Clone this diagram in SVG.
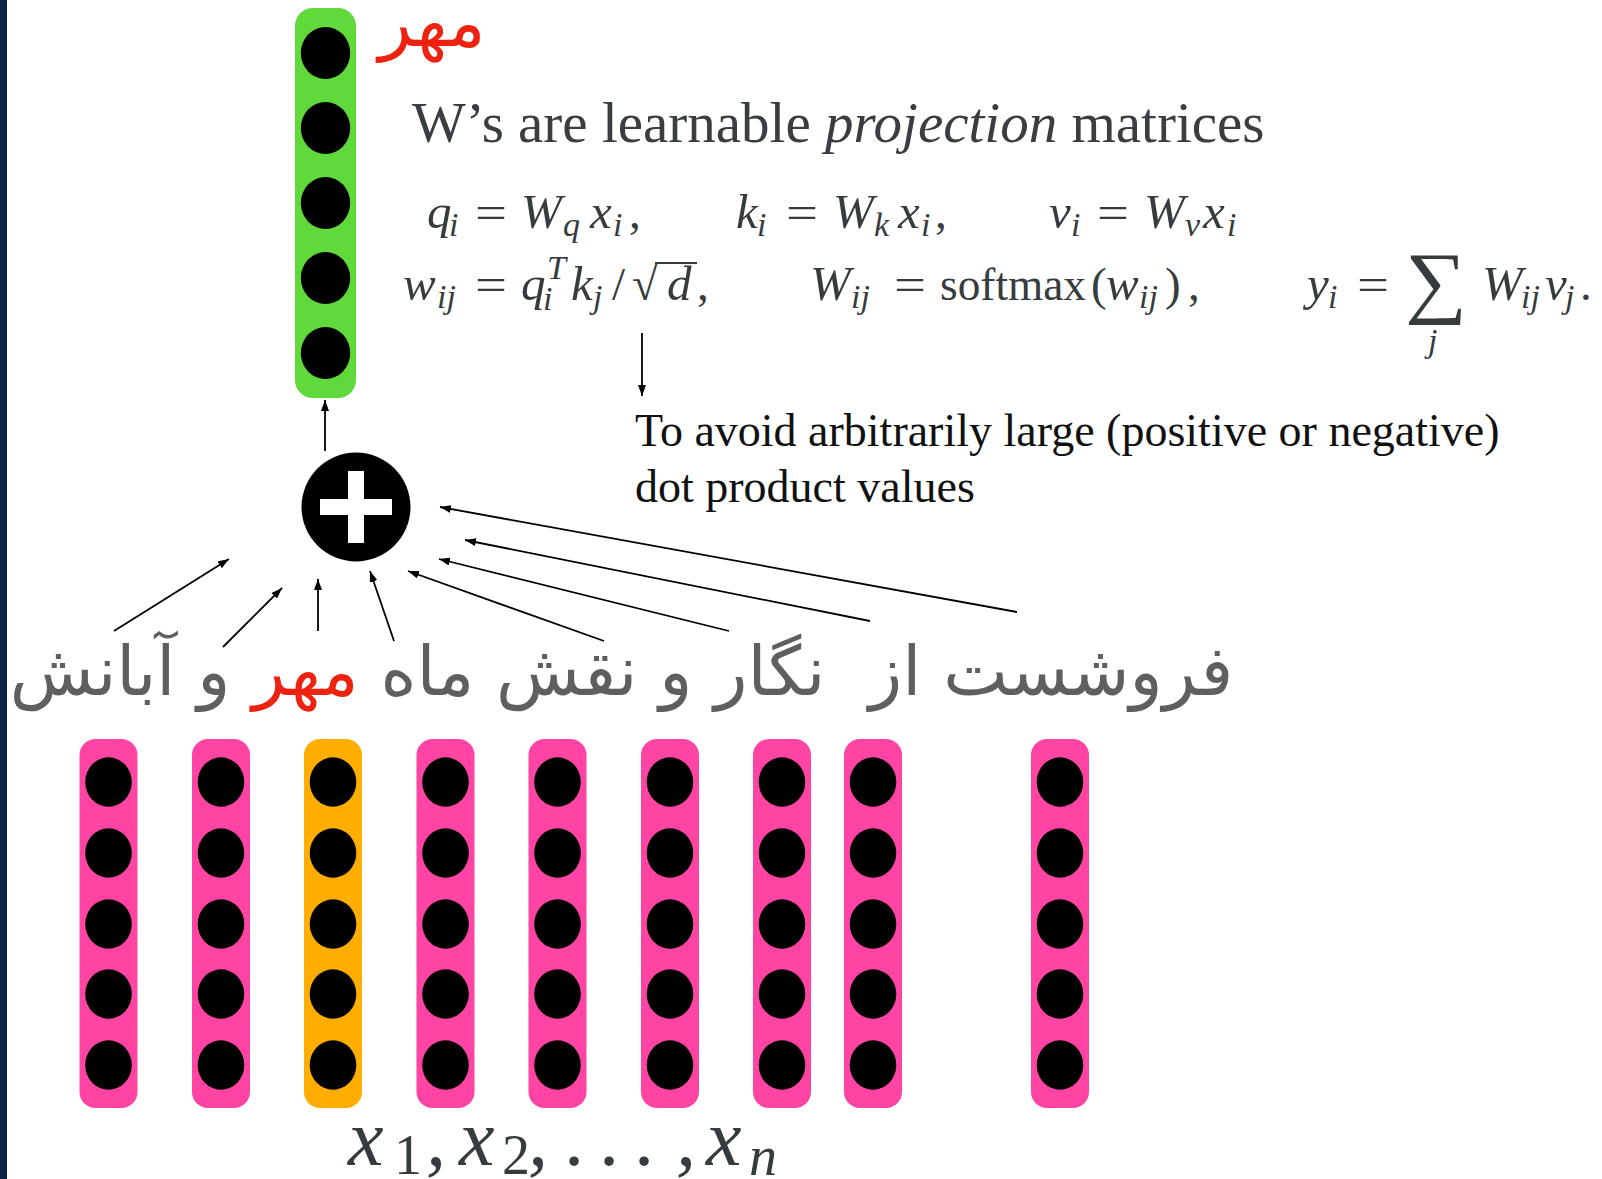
<svg xmlns="http://www.w3.org/2000/svg" width="1602" height="1179" viewBox="0 0 1602 1179">
<style>
.vec-p{fill:#ff44a4}
.vec-o{fill:#ffae00}
.vec-g{fill:#60da3a}
.dot{fill:#000}
.conn{stroke:#000;stroke-width:1.8;fill:none}
.mi{font-family:"Liberation Serif",serif;font-style:italic;font-size:49px;fill:#363c3e}
.mr{font-family:"Liberation Serif",serif;font-size:47px;fill:#363c3e}
.sb{font-family:"Liberation Serif",serif;font-style:italic;font-size:34px;fill:#363c3e}
.fa{font-family:"DejaVu Sans",sans-serif;font-size:68.7px;fill:#5f5f5f}
.red{fill:#ee2210}
.note{font-family:"Liberation Serif",serif;font-size:46px;fill:#111}
.head{font-family:"Liberation Serif",serif;font-size:57px;fill:#3a3e41}
.xl{font-family:"Liberation Serif",serif;font-style:italic;font-size:80px;fill:#363c3e}
.xs{font-family:"Liberation Serif",serif;font-size:56px;fill:#363c3e}
</style>
<defs>
<marker id="ah" markerWidth="11" markerHeight="8" refX="11" refY="4" orient="auto" markerUnits="userSpaceOnUse"><path d="M0,0 L11,4 L0,8 z" fill="#000"/></marker>
</defs>
<rect x="0" y="0" width="1602" height="1179" fill="#fff"/>
<rect x="0" y="0" width="7" height="1179" fill="#0b2546"/>

<g id="output-vector">
<rect class="vec-g" x="295" y="8" width="61" height="390" rx="18"/>
<ellipse class="dot" cx="325.5" cy="53" rx="24.7" ry="26"/>
<ellipse class="dot" cx="325.5" cy="128" rx="24.7" ry="26"/>
<ellipse class="dot" cx="325.5" cy="203" rx="24.7" ry="26"/>
<ellipse class="dot" cx="325.5" cy="278" rx="24.7" ry="26"/>
<ellipse class="dot" cx="325.5" cy="353" rx="24.7" ry="26"/>
</g>
<g id="output-label"><text class="fa red" x="432" y="46" text-anchor="middle" style="font-size:69px">مهر</text></g>

<g id="sum-node">
<circle cx="356" cy="507" r="54.5" fill="#000"/>
<rect x="320" y="499" width="72" height="16" fill="#fff"/>
<rect x="348" y="471" width="16" height="72" fill="#fff"/>
</g>

<g id="input-vectors">
<g id="x1" transform="translate(108.5,0)"><rect class="vec-p" x="-29" y="739" width="58" height="369" rx="16"/><ellipse class="dot" cx="0" cy="782" rx="23.3" ry="24.7"/><ellipse class="dot" cx="0" cy="853" rx="23.3" ry="24.7"/><ellipse class="dot" cx="0" cy="924" rx="23.3" ry="24.7"/><ellipse class="dot" cx="0" cy="994" rx="23.3" ry="24.7"/><ellipse class="dot" cx="0" cy="1065" rx="23.3" ry="24.7"/></g>
<g id="x2" transform="translate(221,0)"><rect class="vec-p" x="-29" y="739" width="58" height="369" rx="16"/><ellipse class="dot" cx="0" cy="782" rx="23.3" ry="24.7"/><ellipse class="dot" cx="0" cy="853" rx="23.3" ry="24.7"/><ellipse class="dot" cx="0" cy="924" rx="23.3" ry="24.7"/><ellipse class="dot" cx="0" cy="994" rx="23.3" ry="24.7"/><ellipse class="dot" cx="0" cy="1065" rx="23.3" ry="24.7"/></g>
<g id="x3" transform="translate(333,0)"><rect class="vec-o" x="-29" y="739" width="58" height="369" rx="16"/><ellipse class="dot" cx="0" cy="782" rx="23.3" ry="24.7"/><ellipse class="dot" cx="0" cy="853" rx="23.3" ry="24.7"/><ellipse class="dot" cx="0" cy="924" rx="23.3" ry="24.7"/><ellipse class="dot" cx="0" cy="994" rx="23.3" ry="24.7"/><ellipse class="dot" cx="0" cy="1065" rx="23.3" ry="24.7"/></g>
<g id="x4" transform="translate(445.5,0)"><rect class="vec-p" x="-29" y="739" width="58" height="369" rx="16"/><ellipse class="dot" cx="0" cy="782" rx="23.3" ry="24.7"/><ellipse class="dot" cx="0" cy="853" rx="23.3" ry="24.7"/><ellipse class="dot" cx="0" cy="924" rx="23.3" ry="24.7"/><ellipse class="dot" cx="0" cy="994" rx="23.3" ry="24.7"/><ellipse class="dot" cx="0" cy="1065" rx="23.3" ry="24.7"/></g>
<g id="x5" transform="translate(557.5,0)"><rect class="vec-p" x="-29" y="739" width="58" height="369" rx="16"/><ellipse class="dot" cx="0" cy="782" rx="23.3" ry="24.7"/><ellipse class="dot" cx="0" cy="853" rx="23.3" ry="24.7"/><ellipse class="dot" cx="0" cy="924" rx="23.3" ry="24.7"/><ellipse class="dot" cx="0" cy="994" rx="23.3" ry="24.7"/><ellipse class="dot" cx="0" cy="1065" rx="23.3" ry="24.7"/></g>
<g id="x6" transform="translate(670,0)"><rect class="vec-p" x="-29" y="739" width="58" height="369" rx="16"/><ellipse class="dot" cx="0" cy="782" rx="23.3" ry="24.7"/><ellipse class="dot" cx="0" cy="853" rx="23.3" ry="24.7"/><ellipse class="dot" cx="0" cy="924" rx="23.3" ry="24.7"/><ellipse class="dot" cx="0" cy="994" rx="23.3" ry="24.7"/><ellipse class="dot" cx="0" cy="1065" rx="23.3" ry="24.7"/></g>
<g id="x7" transform="translate(782,0)"><rect class="vec-p" x="-29" y="739" width="58" height="369" rx="16"/><ellipse class="dot" cx="0" cy="782" rx="23.3" ry="24.7"/><ellipse class="dot" cx="0" cy="853" rx="23.3" ry="24.7"/><ellipse class="dot" cx="0" cy="924" rx="23.3" ry="24.7"/><ellipse class="dot" cx="0" cy="994" rx="23.3" ry="24.7"/><ellipse class="dot" cx="0" cy="1065" rx="23.3" ry="24.7"/></g>
<g id="x8" transform="translate(873,0)"><rect class="vec-p" x="-29" y="739" width="58" height="369" rx="16"/><ellipse class="dot" cx="0" cy="782" rx="23.3" ry="24.7"/><ellipse class="dot" cx="0" cy="853" rx="23.3" ry="24.7"/><ellipse class="dot" cx="0" cy="924" rx="23.3" ry="24.7"/><ellipse class="dot" cx="0" cy="994" rx="23.3" ry="24.7"/><ellipse class="dot" cx="0" cy="1065" rx="23.3" ry="24.7"/></g>
<g id="xn" transform="translate(1060,0)"><rect class="vec-p" x="-29" y="739" width="58" height="369" rx="16"/><ellipse class="dot" cx="0" cy="782" rx="23.3" ry="24.7"/><ellipse class="dot" cx="0" cy="853" rx="23.3" ry="24.7"/><ellipse class="dot" cx="0" cy="924" rx="23.3" ry="24.7"/><ellipse class="dot" cx="0" cy="994" rx="23.3" ry="24.7"/><ellipse class="dot" cx="0" cy="1065" rx="23.3" ry="24.7"/></g>
</g>

<g id="connectors">
<line class="conn" x1="325" y1="451" x2="325" y2="400" marker-end="url(#ah)"/>
<line class="conn" x1="114" y1="631" x2="229" y2="559" marker-end="url(#ah)"/>
<line class="conn" x1="223" y1="647" x2="282" y2="588" marker-end="url(#ah)"/>
<line class="conn" x1="318" y1="631" x2="318" y2="579" marker-end="url(#ah)"/>
<line class="conn" x1="394" y1="641" x2="370" y2="571" marker-end="url(#ah)"/>
<line class="conn" x1="604" y1="641" x2="408" y2="571" marker-end="url(#ah)"/>
<line class="conn" x1="729" y1="631" x2="439" y2="559" marker-end="url(#ah)"/>
<line class="conn" x1="870" y1="621" x2="465" y2="540" marker-end="url(#ah)"/>
<line class="conn" x1="1017" y1="612" x2="440" y2="507" marker-end="url(#ah)"/>
<line class="conn" x1="642" y1="333" x2="642" y2="396" marker-end="url(#ah)"/>
</g>

<g id="sentence">
<text class="fa" x="621.5" y="695" text-anchor="middle" style="white-space:pre" direction="rtl">فروشست از  نگار و نقش ماه <tspan class="red">مهر</tspan> و آبانش</text>
</g>

<g id="heading"><text class="head" x="412" y="142">W’s are learnable <tspan font-style="italic">projection</tspan> matrices</text></g>

<g id="eq-line1">
<text class="mi" x="427" y="228">q</text><text class="sb" x="449" y="236">i</text>
<text class="mr" x="475" y="228" textLength="32" lengthAdjust="spacingAndGlyphs">=</text>
<text class="mi" x="521" y="228">W</text><text class="sb" x="563" y="236">q</text><text class="mi" x="590" y="228">x</text><text class="sb" x="613" y="236">i</text><text class="mr" x="629" y="228">,</text>
<text class="mi" x="736" y="228">k</text><text class="sb" x="757" y="236">i</text>
<text class="mr" x="786" y="228" textLength="32" lengthAdjust="spacingAndGlyphs">=</text>
<text class="mi" x="833" y="228">W</text><text class="sb" x="874" y="236">k</text><text class="mi" x="898" y="228">x</text><text class="sb" x="921" y="236">i</text><text class="mr" x="935" y="228">,</text>
<text class="mi" x="1049" y="228">v</text><text class="sb" x="1071" y="236">i</text>
<text class="mr" x="1097" y="228" textLength="32" lengthAdjust="spacingAndGlyphs">=</text>
<text class="mi" x="1144" y="228">W</text><text class="sb" x="1185" y="236">v</text><text class="mi" x="1203" y="228">x</text><text class="sb" x="1227" y="236">i</text>
</g>

<g id="eq-line2">
<text class="mi" x="403" y="300">w</text><text class="sb" x="437" y="308">ij</text>
<text class="mr" x="475" y="300" textLength="32" lengthAdjust="spacingAndGlyphs">=</text>
<text class="mi" x="521" y="300">q</text><text class="sb" x="543" y="310">i</text><text class="sb" x="547" y="279">T</text>
<text class="mi" x="571" y="300">k</text><text class="sb" x="593" y="308">j</text>
<text class="mr" x="612" y="300">/</text>
<text class="mr" x="632" y="300">√</text>
<line x1="655" y1="263" x2="697" y2="263" stroke="#363c3e" stroke-width="2.2"/>
<text class="mi" x="667" y="300">d</text><text class="mr" x="697" y="300">,</text>
<text class="mi" x="810" y="300">W</text><text class="sb" x="851" y="308">ij</text>
<text class="mr" x="894" y="300" textLength="32" lengthAdjust="spacingAndGlyphs">=</text>
<text class="mr" x="940" y="300" textLength="146" lengthAdjust="spacingAndGlyphs">softmax</text>
<text class="mr" x="1091" y="300">(</text><text class="mi" x="1106" y="300">w</text><text class="sb" x="1139" y="308">ij</text><text class="mr" x="1165" y="300">)</text><text class="mr" x="1188" y="300">,</text>
<text class="mi" x="1307" y="300">y</text><text class="sb" x="1328" y="308">i</text>
<text class="mr" x="1357" y="300" textLength="32" lengthAdjust="spacingAndGlyphs">=</text>
<text class="mr" x="1405" y="308" textLength="62" lengthAdjust="spacingAndGlyphs" style="font-size:80px">∑</text>
<text class="sb" x="1428" y="352">j</text>
<text class="mi" x="1482" y="300">W</text><text class="sb" x="1521" y="308">ij</text><text class="mi" x="1545" y="300">v</text><text class="sb" x="1565" y="308">j</text><text class="mr" x="1580" y="300">.</text>
</g>

<g id="note">
<text class="note" x="635" y="446">To avoid arbitrarily large (positive or negative)</text>
<text class="note" x="635" y="502">dot product values</text>
</g>

<g id="x-label">
<text class="xl" x="348" y="1165">x</text><text class="xs" x="394" y="1174">1</text><text class="xl" x="426" y="1165" font-style="normal">,</text>
<text class="xl" x="459" y="1165">x</text><text class="xs" x="502" y="1174">2</text><text class="xl" x="528" y="1165" font-style="normal">,</text>
<text class="xl" x="576" y="1165" text-anchor="middle" font-style="normal">.</text>
<text class="xl" x="611" y="1165" text-anchor="middle" font-style="normal">.</text>
<text class="xl" x="646" y="1165" text-anchor="middle" font-style="normal">.</text>
<text class="xl" x="676" y="1165" font-style="normal">,</text>
<text class="xl" x="706" y="1165">x</text><text class="xl" x="749" y="1175" style="font-size:56px">n</text>
</g>
</svg>
